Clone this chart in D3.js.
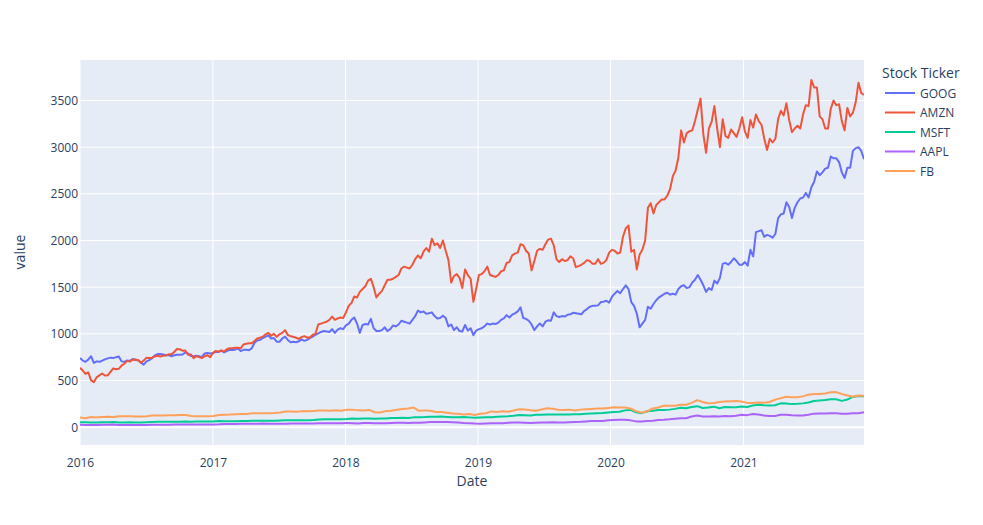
<!DOCTYPE html>
<html><head><meta charset="utf-8">
<script src="https://cdn.jsdelivr.net/npm/d3@7"></script>
<style>body{margin:0;background:#fff}svg{display:block}text{font-family:"Open Sans",verdana,arial,sans-serif;fill:#2a3f5f}</style>
</head><body>
<script>
// ---- data ----
const dateRange = ["2016-01-01", "2021-11-29"];
const yearTicks = ["2016", "2017", "2018", "2019", "2020", "2021"];
const valueTicks = [0, 500, 1000, 1500, 2000, 2500, 3000, 3500];
const tickers = ["GOOG", "AMZN", "MSFT", "AAPL", "FB"];
const tickerColors = ["#636efa", "#EF553B", "#00cc96", "#ab63fa", "#FFA15A"];

// weekly-ish (4 per month, Jan 2016 - Nov 2021)
const goog = [
 741,714,700,725, 760,690,705,700, 712,726,737,745, 740,750,758,705, 700,715,710,730, 720,718,692,670,
 705,718,740,768, 783,785,780,770, 772,760,770,777, 776,778,800,790, 762,760,765,760, 750,790,795,790,
 795,807,805,820, 801,815,830,828, 830,845,815,829, 830,825,845,905, 930,935,955,970, 983,950,955,915,
 915,950,970,935, 910,915,910,920, 940,925,935,955, 970,990,1005,1020, 1030,1025,1020,1050, 1010,1045,1060,1050,
 1090,1110,1150,1175, 1110,1010,1095,1105, 1100,1160,1060,1030, 1030,1040,1070,1030, 1050,1090,1080,1100, 1140,1130,1120,1110,
 1150,1190,1250,1230, 1240,1215,1220,1230, 1190,1165,1170,1195, 1170,1080,1100,1040, 1070,1030,1025,1095, 1035,1060,985,1035,
 1050,1060,1080,1110, 1100,1110,1105,1120, 1150,1165,1200,1175, 1205,1220,1240,1285, 1170,1160,1140,1100, 1040,1080,1110,1080,
 1130,1145,1140,1230, 1190,1180,1190,1185, 1205,1210,1225,1220, 1215,1210,1245,1265, 1290,1300,1300,1305, 1340,1345,1355,1335,
 1395,1430,1460,1435, 1480,1520,1480,1340, 1300,1215,1070,1110, 1150,1290,1270,1320, 1360,1390,1410,1430, 1440,1420,1430,1420,
 1480,1510,1520,1490, 1500,1550,1580,1630, 1580,1520,1450,1490, 1470,1570,1540,1600, 1750,1760,1740,1770, 1810,1780,1740,1740,
 1770,1730,1900,1830, 2090,2100,2110,2040, 2060,2050,2030,2070, 2240,2280,2290,2410, 2360,2240,2350,2410, 2450,2460,2510,2460,
 2570,2630,2740,2700, 2730,2770,2780,2900, 2880,2880,2840,2730, 2670,2780,2780,2960, 2990,3000,2960,2870
];
const amzn = [
 636,607,570,587, 502,482,534,555, 575,553,555,593, 630,620,625,659, 680,710,702,722, 725,718,690,715,
 745,740,745,758, 765,757,765,769, 780,780,805,837, 835,820,822,776, 780,740,760,750, 740,760,770,750,
 795,817,808,823, 810,835,845,845, 850,852,845,886, 894,900,900,924, 950,960,970,995, 1010,980,1000,968,
 995,1010,1040,988, 975,968,958,946, 965,975,960,961, 990,1000,1100,1110, 1120,1130,1150,1185, 1150,1165,1175,1170,
 1230,1300,1330,1400, 1390,1450,1480,1510, 1570,1590,1500,1390, 1430,1460,1520,1580, 1580,1590,1610,1630, 1700,1720,1710,1700,
 1740,1800,1840,1810, 1880,1920,1880,2020, 1950,1970,1920,2000, 1890,1790,1550,1620, 1640,1600,1490,1690, 1630,1590,1343,1480,
 1630,1640,1670,1720, 1630,1620,1610,1630, 1670,1680,1760,1770, 1840,1860,1870,1960, 1950,1890,1860,1680, 1780,1890,1910,1900,
 1960,2010,2020,1950, 1800,1770,1800,1780, 1790,1830,1810,1715, 1725,1740,1760,1790, 1780,1750,1750,1800, 1750,1760,1790,1870,
 1900,1890,1860,1870, 2040,2130,2160,1880, 1900,1690,1850,1900, 2000,2350,2400,2290, 2380,2410,2440,2440, 2480,2550,2690,2750,
 2890,3180,3050,3150, 3170,3180,3280,3400, 3520,3140,2940,3200, 3270,3440,3200,3000, 3300,3120,3100,3190, 3150,3110,3200,3320,
 3170,3100,3290,3210, 3350,3280,3240,3090, 2970,3090,3050,3090, 3300,3390,3340,3470, 3290,3160,3200,3230, 3200,3350,3450,3440,
 3720,3640,3640,3330, 3300,3200,3200,3410, 3500,3450,3460,3280, 3180,3420,3330,3370, 3480,3690,3580,3560
];
// twice per month, Jan 2016 - Nov 2021
const msft = [
 54,52, 50,51, 53,54, 55,50, 51,53, 51,50, 53,56, 58,57, 57,57, 58,60, 59,60, 62,62,
 62,65, 64,64, 64,65, 66,68, 69,70, 70,69, 72,73, 73,74, 75,74, 77,83, 84,84, 84,85,
 88,94, 91,94, 94,91, 93,94, 97,98, 101,99, 105,106, 108,112, 112,114, 110,106, 107,110, 105,101,
 103,106, 106,112, 115,118, 123,130, 127,124, 132,133, 137,137, 135,137, 137,139, 139,143, 147,150, 151,157,
 162,166, 180,185, 160,150, 170,175, 183,183, 188,196, 208,203, 216,225, 205,210, 220,203, 216,213, 214,222,
 217,232, 240,235, 233,235, 255,253, 247,250, 255,265, 280,285, 290,300, 300,282, 296,324, 335,330
];
const aapl = [
 26,24.5, 24,24, 25.5,26.5, 27.5,24, 23.5,24.5, 24.5,23.5, 24.5,26, 27,26.5, 27,28, 29,28.5, 27.5,27.5, 28.5,29,
 29.5,30, 33,34, 35,35.5, 35.5,36, 38,38.5, 37,36, 36,37.5, 40,40, 40,38.5, 39,42, 43,43, 43,43,
 43.5,43, 40,43.5, 44.5,42, 43,41, 46,47, 47.5,46, 47.5,48, 51,55, 56,55, 56,54, 51,45, 43,39,
 37,39, 42,43, 43,47, 50,51, 48,45, 48,49.5, 50.5,52, 50,51, 53,55, 57,62, 65,66, 67,73,
 77,79, 80,73, 62,61, 67,70, 76,79, 84,91, 95,96, 114,125, 115,115, 116,115, 119,118, 122,132,
 129,140, 136,126, 121,120, 133,132, 127,125, 126,134, 145,147, 147,150, 148,145, 144,149, 150,161
];
const fb = [
 103,95, 110,105, 108,112, 110,117, 118,118, 115,114, 118,124, 125,124, 128,128, 130,130, 119,118, 118,116,
 120,130, 133,135, 139,140, 141,150, 150,148, 150,151, 158,169, 169,166, 172,170, 174,178, 178,177, 180,177,
 186,188, 180,178, 185,160, 157,172, 177,187, 195,200, 210,175, 180,175, 163,163, 154,146, 145,135, 140,131,
 143,150, 169,162, 170,166, 178,193, 190,182, 175,190, 202,198, 187,185, 188,178, 188,192, 196,199, 199,206,
 213,210, 210,200, 170,155, 170,200, 210,230, 230,230, 240,240, 260,290, 270,255, 260,270, 275,278, 280,276,
 260,260, 265,262, 270,295, 310,325, 320,320, 330,347, 355,355, 360,375, 376,355, 340,325, 340,338
];
const seriesValues = [goog, amzn, msft, aapl, fb];

// ---- chart ----
const W = 983, H = 525;
const m = {l: 80, r: 119, t: 60, b: 80};
const svg = d3.select("body").append("svg").attr("width", W).attr("height", H);

const t0 = new Date(dateRange[0] + "T00:00:00"), t1 = new Date(dateRange[1] + "T00:00:00");
const x = d3.scaleTime().domain([t0, t1]).range([m.l, W - m.r]);
const y = d3.scaleLinear().domain([-191, 3934]).range([H - m.b, m.t]);

svg.append("rect").attr("x", m.l).attr("y", m.t)
  .attr("width", W - m.l - m.r).attr("height", H - m.t - m.b).attr("fill", "#E5ECF6");

const yearDates = yearTicks.map(s => new Date(s + "-01-01T00:00:00"));
// grid
svg.append("g").selectAll("line").data(yearDates).join("line")
  .attr("x1", d => x(d)).attr("x2", d => x(d)).attr("y1", m.t).attr("y2", H - m.b)
  .attr("stroke", "#fff").attr("stroke-width", 1);
svg.append("g").selectAll("line").data(valueTicks).join("line")
  .attr("x1", m.l).attr("x2", W - m.r).attr("y1", d => y(d)).attr("y2", d => y(d))
  .attr("stroke", "#fff").attr("stroke-width", d => d === 0 ? 2 : 1);

// axes
const xAxis = svg.append("g").attr("transform", `translate(0,${H - m.b})`)
  .call(d3.axisBottom(x).tickValues(yearDates).tickFormat(d3.timeFormat("%Y")).tickSize(0).tickPadding(13));
const yAxis = svg.append("g").attr("transform", `translate(${m.l},0)`)
  .call(d3.axisLeft(y).tickValues(valueTicks).tickFormat(d3.format("d")).tickSize(0).tickPadding(2));
[xAxis, yAxis].forEach(a => {
  a.select(".domain").remove();
  a.selectAll("text").attr("font-size", 12).attr("fill", "#2a3f5f")
   .attr("font-family", '"Open Sans",verdana,arial,sans-serif');
});

svg.append("text").attr("x", 472).attr("y", 486).attr("text-anchor", "middle")
  .attr("font-size", 14).text("Date");
svg.append("text").attr("transform", "translate(25,252) rotate(-90)").attr("text-anchor", "middle")
  .attr("font-size", 14).text("value");

// lines
svg.append("clipPath").attr("id", "clip").append("rect")
  .attr("x", m.l).attr("y", m.t).attr("width", W - m.l - m.r).attr("height", H - m.t - m.b);
const lineG = svg.append("g").attr("clip-path", "url(#clip)");
seriesValues.forEach((vals, si) => {
  const n = vals.length;
  const ti = d3.scaleLinear().domain([0, n - 1]).range([t0.getTime(), t1.getTime()]);
  const pts = vals.map((v, i) => [new Date(ti(i)), v]);
  lineG.append("path").datum(pts)
    .attr("fill", "none").attr("stroke", tickerColors[si]).attr("stroke-width", 2)
    .attr("stroke-linejoin", "round")
    .attr("d", d3.line().x(d => x(d[0])).y(d => y(d[1])));
});

// legend
const lg = svg.append("g");
lg.append("text").attr("x", 882).attr("y", 78).attr("font-size", 14).text("Stock Ticker");
tickers.forEach((tk, i) => {
  const yy = 93 + i * 19.5;
  lg.append("line").attr("x1", 885).attr("x2", 915).attr("y1", yy).attr("y2", yy)
    .attr("stroke", tickerColors[i]).attr("stroke-width", 2);
  lg.append("text").attr("x", 920).attr("y", yy + 4.5).attr("font-size", 12).text(tk);
});
</script>
</body></html>
